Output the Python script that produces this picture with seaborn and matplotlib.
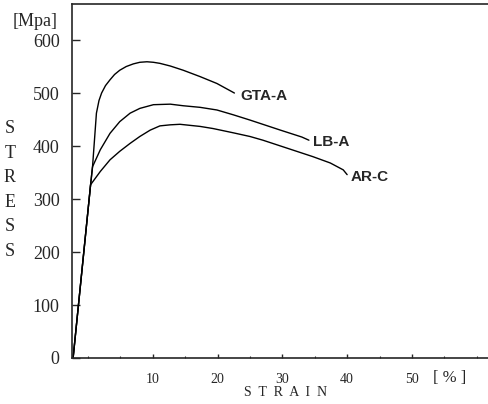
import pandas as pd
import seaborn as sns
import matplotlib.pyplot as plt
from matplotlib.ticker import MultipleLocator

# stress-strain curves (strain in %, stress in MPa)
gta_strain = [-2.3, 0.4, 0.7, 1.3, 1.7, 2.1, 2.7, 3.4, 4.1, 4.9, 5.9, 7.0, 8.0, 9.1, 10.1, 11.1, 12.7, 14.7, 17.3, 19.9, 22.6]
gta_stress = [0, 327, 361, 462, 486, 500, 514, 525, 535, 543, 550, 555, 558, 559, 558, 556, 551, 543, 531, 518, 500]

lb_strain = [-2.3, 0.4, 0.7, 1.9, 3.4, 4.9, 6.5, 8.0, 10.1, 12.7, 14.7, 17.3, 19.9, 22.4, 25.0, 29.7, 33.0, 34.1]
lb_stress = [0, 327, 361, 393, 424, 446, 462, 471, 478, 479, 476, 473, 468, 459, 449, 430, 417, 411]

ar_strain = [-2.3, 0.4, 1.9, 3.4, 4.9, 6.5, 8.0, 9.6, 11.1, 12.7, 14.2, 17.3, 19.3, 22.4, 25.0, 27.0, 34.7, 37.4, 39.4, 40.0]
ar_stress = [0, 327, 352, 374, 390, 405, 418, 430, 438, 440, 441, 437, 433, 425, 418, 411, 380, 368, 355, 346]

names = ['GTA-A', 'LB-A', 'AR-C']
label_x = [23.5, 34.7, 40.5]
label_y = [494, 408, 342]

yticks = [0, 100, 200, 300, 400, 500, 600]
xticks = [10, 20, 30, 40, 50]

frames = []
for name, xs, ys in zip(names, [gta_strain, lb_strain, ar_strain], [gta_stress, lb_stress, ar_stress]):
    frames.append(pd.DataFrame({'strain': xs, 'stress': ys, 'spec': name}))
df = pd.concat(frames, ignore_index=True)

sns.set_style('ticks')
plt.rcParams['font.family'] = ['Liberation Serif', 'DejaVu Serif']

fig = plt.figure(figsize=(4.89, 4.04), dpi=100)
ax = fig.add_axes([72 / 489, 46 / 404, 417 / 489, 354 / 404])

sns.lineplot(data=df, x='strain', y='stress', hue='spec', palette=['black'] * 3,
             sort=False, estimator=None, legend=False, linewidth=1.0, ax=ax)

for name, tx, ty in zip(names, label_x, label_y):
    ax.text(tx, ty, name, ha='left', va='center', fontsize=11, fontweight='bold',
            family=['Liberation Sans', 'DejaVu Sans'])

ax.set_xlim(-2.47, 61.9)
ax.set_ylim(0, 668)
ax.set_xticks(xticks)
ax.set_yticks(yticks)
ax.xaxis.set_minor_locator(MultipleLocator(5))
ax.tick_params(axis='y', direction='in', length=6, width=1, pad=9, labelsize=13)
ax.tick_params(axis='x', direction='in', length=3, width=1, pad=11, labelsize=10)
ax.tick_params(axis='x', which='minor', direction='in', length=1.5, width=0.8)
ax.set_xlabel('')
ax.set_ylabel('')
ax.spines['right'].set_visible(False)
for s in ['left', 'top', 'bottom']:
    ax.spines[s].set_linewidth(1.2)

fig.text(35 / 489, 1 - 22 / 404, '[Mpa]', ha='center', va='center', fontsize=13)
fig.text(10 / 489, 1 - 190 / 404, 'S\nT\nR\nE\nS\nS', ha='center', va='center',
         fontsize=13, linespacing=1.58)
fig.text(286 / 489, 1 - 393 / 404, 'S  T  R  A  I  N', ha='center', va='center', fontsize=10)
fig.text(450 / 489, 1 - 378 / 404, '[ % ]', ha='center', va='center', fontsize=12)

fig.savefig('out.png', dpi=100)
